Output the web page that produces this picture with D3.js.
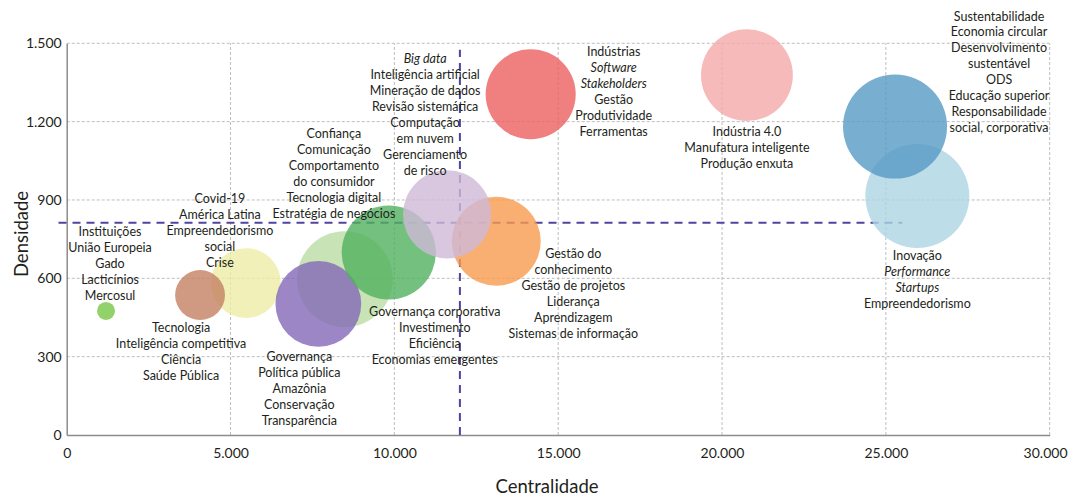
<!DOCTYPE html>
<html>
<head>
<meta charset="utf-8">
<script src="https://cdn.jsdelivr.net/npm/d3@7"></script>
<style>
  body { margin: 0; background: #fff; }
  text { font-family: Lato, "Open Sans", sans-serif; fill: #231f20; }
</style>
</head>
<body>
<svg id="chart" width="1069" height="497"></svg>
<script>
// Data (drawing order: later bubbles sit on top)
const centralidade = [8490, 5470, 4070, 7680, 9830, 13110, 11610, 14160, 20760, 25960, 25280, 1200];
const densidade    = [597, 582, 536, 502, 699, 742, 845, 1305, 1378, 915, 1181, 475];
const peso         = [85, 45, 23, 68, 82, 73, 72, 75, 78, 100, 100, 3];
const cores = ['#badca3', '#ececa6', '#c48163', '#8568b8', '#51b05f', '#f89a4f',
               '#ceb9d7', '#ec6060', '#f5a9a9', '#add5e2', '#569ac4', '#78c645'];
const rotulos = [
    ['Confiança', 'Comunicação', 'Comportamento', 'do consumidor', 'Tecnologia digital', 'Estratégia de negócios'],
    ['Covid-19', 'América Latina', 'Empreendedorismo', 'social', 'Crise'],
    ['Tecnologia', 'Inteligência competitiva', 'Ciência', 'Saúde Pública'],
    ['Governança', 'Política pública', 'Amazônia', 'Conservação', 'Transparência'],
    ['Governança corporativa', 'Investimento', 'Eficiência', 'Economias emergentes'],
    ['Gestão do', 'conhecimento', 'Gestão de projetos', 'Liderança', 'Aprendizagem', 'Sistemas de informação'],
    ['Big data', 'Inteligência artificial', 'Mineração de dados', 'Revisão sistemática', 'Computação', 'em nuvem', 'Gerenciamento', 'de risco'],
    ['Indústrias', 'Software', 'Stakeholders', 'Gestão', 'Produtividade', 'Ferramentas'],
    ['Indústria 4.0', 'Manufatura inteligente', 'Produção enxuta'],
    ['Inovação', 'Performance', 'Startups', 'Empreendedorismo'],
    ['Sustentabilidade', 'Economia circular', 'Desenvolvimento', 'sustentável', 'ODS', 'Educação superior', 'Responsabilidade', 'social, corporativa'],
    ['Instituições', 'União Europeia', 'Gado', 'Lacticínios', 'Mercosul']
];
const termosItalicos = ['Big data', 'Software', 'Stakeholders', 'Performance', 'Startups'];
const xTicks = [0, 5000, 10000, 15000, 20000, 25000, 30000];
const yTicks = [0, 300, 600, 900, 1200, 1500];
const mediaCentralidade = 12000;
const mediaDensidade = 813;
const limiteLinhaV = 1475;       // top of the vertical reference line (densidade)
const limitesLinhaH = [-250, 25500]; // extent of the horizontal reference line (centralidade)

// Label placement relative to bubble centre (px): [dx, baseline of first line]
const labelOffsets = [
    [-11, -141], [-26, -80], [-19, 37], [-19, 57], [46, 64], [77, 17],
    [-22, -151], [83, -38], [0, 61], [0, 64], [104, -106], [4, -75]
];

const width = 1069, height = 497;
const margin = { top: 43.3, right: 19.3, bottom: 62, left: 66.7 };
const lineH = 15.9;

const br = d3.formatLocale({ decimal: ',', thousands: '.', grouping: [3], currency: ['R$', ''] });
const fmt = br.format(',.0f');

const svg = d3.select('#chart');

const x = d3.scaleLinear().domain([0, 30000]).range([margin.left, width - margin.right]);
const y = d3.scaleLinear().domain([0, 1500]).range([height - margin.bottom, margin.top]);
const r = d3.scaleSqrt().domain([0, 100]).range([0, 52]);

// Gridlines
svg.append('g').selectAll('line').data(yTicks.filter(d => d > 0)).join('line')
    .attr('x1', x(0)).attr('x2', x(30000))
    .attr('y1', d => y(d)).attr('y2', d => y(d))
    .attr('stroke', '#bdbdbd').attr('stroke-width', 1).attr('stroke-dasharray', '3,2');
svg.append('g').selectAll('line').data(xTicks.filter(d => d > 0)).join('line')
    .attr('x1', d => x(d)).attr('x2', d => x(d))
    .attr('y1', y(0)).attr('y2', y(1500))
    .attr('stroke', '#bdbdbd').attr('stroke-width', 1).attr('stroke-dasharray', '3,2');

// Axes
const xAxis = svg.append('g').attr('transform', `translate(0,${y(0)})`)
    .call(d3.axisBottom(x).tickValues(xTicks).tickFormat(fmt).tickSize(0).tickPadding(13));
const yAxis = svg.append('g').attr('transform', `translate(${x(0)},0)`)
    .call(d3.axisLeft(y).tickValues(yTicks).tickFormat(fmt).tickSize(0).tickPadding(5));
[xAxis, yAxis].forEach(a => {
    a.select('.domain').attr('stroke', '#8c8c8c').attr('stroke-width', 1.5);
    a.selectAll('text').attr('font-size', 14).attr('fill', '#231f20')
        .style('font-family', 'Lato, sans-serif');
});
// keep the last x label inside the frame
xAxis.selectAll('.tick').filter(d => d === 30000).select('text')
    .attr('text-anchor', 'end').attr('x', width - 2 - x(30000));

// Reference (mean) lines
svg.append('line')
    .attr('x1', x(mediaCentralidade)).attr('x2', x(mediaCentralidade))
    .attr('y1', y(0)).attr('y2', y(limiteLinhaV))
    .attr('stroke', '#4f44a0').attr('stroke-width', 2).attr('stroke-dasharray', '8,6');
svg.append('line')
    .attr('x1', x(limitesLinhaH[0])).attr('x2', x(limitesLinhaH[1]))
    .attr('y1', y(mediaDensidade)).attr('y2', y(mediaDensidade))
    .attr('stroke', '#4f44a0').attr('stroke-width', 2).attr('stroke-dasharray', '8,6');

// Bubbles
const data = centralidade.map((c, i) => ({
    c: c, d: densidade[i], p: peso[i], cor: cores[i], linhas: rotulos[i], off: labelOffsets[i]
}));

svg.append('g').selectAll('circle').data(data).join('circle')
    .attr('cx', d => x(d.c))
    .attr('cy', d => y(d.d))
    .attr('r', d => r(d.p))
    .attr('fill', d => d.cor)
    .attr('fill-opacity', 0.8);

// Labels
const labels = svg.append('g').selectAll('text').data(data).join('text')
    .attr('text-anchor', 'middle')
    .attr('font-size', 12.5)
    .attr('transform', d => `translate(${x(d.c) + d.off[0]},${y(d.d) + d.off[1]})`);

labels.each(function(d) {
    const t = d3.select(this);
    d.linhas.forEach((linha, k) => {
        t.append('tspan')
            .attr('x', 0)
            .attr('y', k * lineH)
            .attr('font-style', termosItalicos.includes(linha) ? 'italic' : 'normal')
            .text(linha);
    });
});

// Axis titles
svg.append('text')
    .attr('x', 547).attr('y', 493)
    .attr('text-anchor', 'middle')
    .attr('font-size', 18.5)
    .text('Centralidade');
svg.append('text')
    .attr('transform', `translate(28,${234}) rotate(-90)`)
    .attr('text-anchor', 'middle')
    .attr('font-size', 18.5)
    .text('Densidade');
</script>
</body>
</html>
